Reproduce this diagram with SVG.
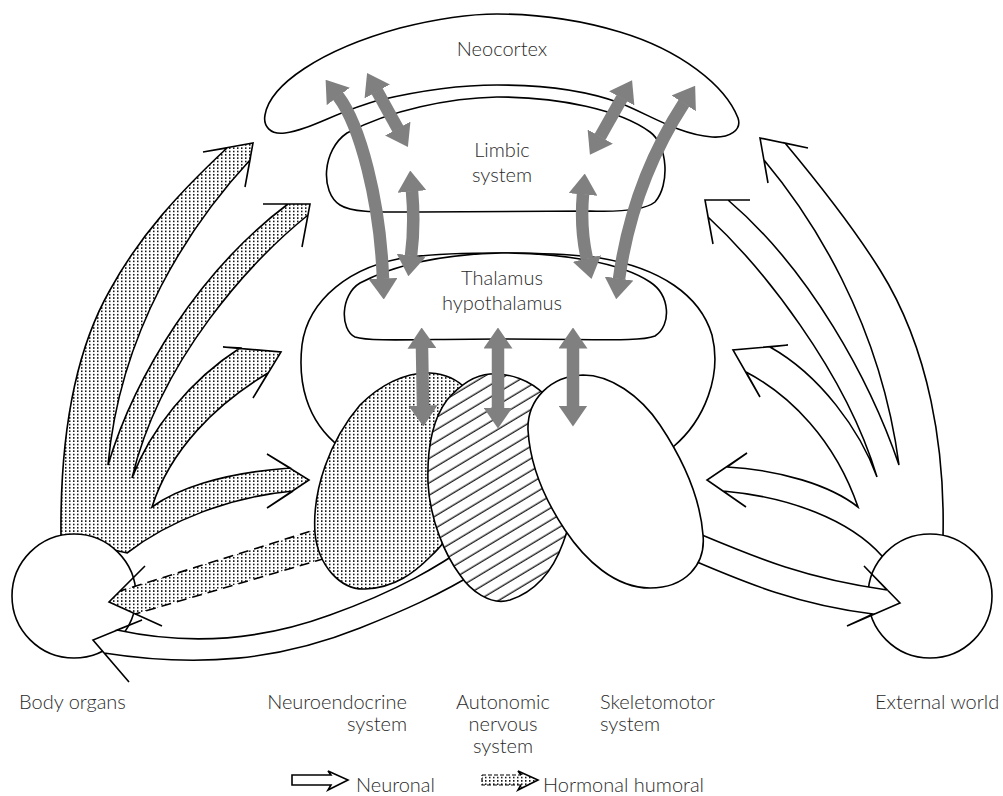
<svg xmlns="http://www.w3.org/2000/svg" width="1003" height="796" viewBox="0 0 1003 796">
<style>
.o{stroke:#000;stroke-width:1.6;fill:#fff}
.dt{stroke:#000;stroke-width:1.6;fill:url(#dots)}
.ht{stroke:#000;stroke-width:1.6;fill:url(#hatch)}
.t{font-family:Lato,"Open Sans","Liberation Sans",sans-serif;font-size:20px;font-weight:300;fill:#2a2a2a}
.m{text-anchor:middle}
.e{text-anchor:end}
.g{stroke:#808080;stroke-width:12.5;fill:none;marker-start:url(#gh);marker-end:url(#gh)}
.dash{fill:none;stroke:#000;stroke-width:1.6;stroke-dasharray:10 6}
.ln{fill:none;stroke:#000;stroke-width:1.6}
</style>
<defs>
<pattern id="dots" width="4" height="3.33" patternUnits="userSpaceOnUse">
<rect width="4" height="3.33" fill="#fff"/>
<rect x="1" y="0.9" width="1.5" height="1.5" fill="#000"/>
</pattern>
<pattern id="hatch" width="10" height="10.5" patternUnits="userSpaceOnUse" patternTransform="rotate(-31)">
<rect width="10" height="10.5" fill="#fff"/>
<line x1="0" y1="5" x2="10" y2="5" stroke="#000" stroke-width="1.2"/>
</pattern>
<marker id="gh" viewBox="0 0 21 29" refX="0.5" refY="14.5" markerWidth="21" markerHeight="29" markerUnits="userSpaceOnUse" orient="auto-start-reverse">
<path d="M0,0 L21,14.5 L0,29 Z" fill="#808080"/>
</marker>
</defs>

<g id="connectors-under">
<path id="hormonal-fan" class="dt" d="M61,538 C60,450 70,360 110,290 C140,235 180,192 227,148 L203,152 L253,143 L245,187 L250,160 C190,225 120,330 108,465 C135,375 200,270 288,204 L263,204 L310,204 L302,247 L308,215 C250,262 160,360 132,478 C150,430 190,380 240,348 L223,347 L281,352 L253,398 L268,373 C215,405 170,450 152,507 C175,490 220,473 290,468 L267,454 L309,480 L267,508 L293,491 C230,497 170,520 127,553 L61,538 Z"/>
<path id="neuronal-fan" class="o" d="M943,537 C945,450 930,350 880,270 C855,230 820,185 785,143 L808,148 L760,138 L768,183 L764,160 C810,215 880,320 899,465 C870,380 810,270 728,200 L750,200 L705,200 L713,244 L708,217 C760,265 845,370 877,477 C860,430 820,375 770,347 L788,345 L733,350 L760,397 L746,372 C790,395 835,440 858,507 C830,485 780,470 727,467 L747,453 L707,480 L746,507 L723,491 C790,497 850,520 882,556 L943,537 Z"/>
</g>

<g id="body-organs">
<circle class="o" cx="74" cy="596" r="62"/>
<text class="t" x="19" y="709">Body organs</text>
</g>
<g id="external-world">
<circle class="o" cx="930" cy="596" r="62"/>
<text class="t" x="875" y="709">External world</text>
</g>

<g id="connectors-lower">
<path id="ans-to-body" class="o" d="M472,543 C440,565 400,590 330,615 C270,637 200,648 117,630 L142,620 L93,640 L129,682 L104,653 C200,668 280,660 360,628 C400,612 440,595 480,570 Z"/>
<g id="endo-to-body">
<path d="M340,522 L120,591 L145,566 L109,602 L162,626 L135,614 L340,554 Z" fill="url(#dots)"/>
<path class="dash" d="M340,522 L120,591 M340,554 L135,614"/>
<path class="ln" d="M145,566 L109,602 L162,626"/>
</g>
<path id="skel-to-world" class="o" d="M685,528 C750,555 800,578 887,590 L864,566 L900,603 L847,626 L873,614 C800,605 750,585 683,556 Z"/>
</g>

<g id="neocortex">
<path class="o" d="M265,115 C270,85 320,50 400,28 C440,18 470,14 497,14 C540,14 580,20 620,32 C680,50 725,85 738,118 C742,130 730,138 712,137 C680,135 650,115 620,103 C585,90 540,85 497,85 C450,85 410,93 380,100 C340,110 310,130 285,133 C270,135 263,126 265,115 Z"/>
<text class="t m" x="502" y="56">Neocortex</text>
</g>
<g id="limbic">
<path class="o" d="M347,133 C390,110 450,98 497,97 C560,97 620,110 650,132 C668,145 670,185 655,202 C645,210 620,212 590,211 L420,212 C380,212 352,213 340,205 C320,192 322,150 347,133 Z"/>
<text class="t m" x="502" y="157">Limbic</text>
<text class="t m" x="502" y="182">system</text>
</g>
<g id="thalamus">
<path class="o" d="M340,447 C305,420 298,380 302,345 C308,300 350,265 410,257 C450,252 550,251 600,258 C660,268 700,295 712,335 C722,375 705,420 673,447 L600,500 L400,500 Z"/>
<path class="o" d="M360,283 C400,262 450,254 502,253 C560,253 620,262 650,282 C670,295 672,325 655,336 C640,342 600,339 500,339 C420,339 370,342 355,337 C340,330 340,295 360,283 Z"/>
<text class="t m" x="502" y="285">Thalamus</text>
<text class="t m" x="502" y="310">hypothalamus</text>
</g>
<g id="neuroendocrine">
<path class="dt" d="M430,373 C460,375 480,395 480,430 C480,480 460,530 430,557 C415,572 395,588 365,589 C340,590 318,565 315,533 C312,490 330,440 360,405 C380,385 405,372 430,373 Z"/>
<text class="t e" x="407" y="709">Neuroendocrine</text>
<text class="t e" x="407" y="731">system</text>
</g>
<g id="autonomic">
<path class="ht" d="M490,374 C510,373 530,380 545,395 C575,430 580,500 563,543 C555,565 540,590 510,600 C490,606 470,590 460,575 C445,555 430,520 428,483 C427,450 432,420 447,400 C460,385 475,375 490,374 Z"/>
<text class="t m" x="503" y="709">Autonomic</text>
<text class="t m" x="503" y="731">nervous</text>
<text class="t m" x="503" y="753">system</text>
</g>
<g id="skeletomotor">
<path class="o" d="M583,375 C610,375 640,395 660,425 C680,455 700,495 703,535 C706,565 685,588 650,588 C615,588 585,560 565,530 C545,500 530,465 528,430 C527,400 550,376 583,375 Z"/>
<text class="t" x="600" y="709">Skeletomotor</text>
<text class="t" x="600" y="731">system</text>
</g>

<g id="connectors-gray">
<path class="g" d="M338,96 C360,125 380,200 383,279"/>
<path class="g" d="M377,91 L398,129"/>
<path class="g" d="M412,191 Q415,225 411,256"/>
<path class="g" d="M583,194 Q580,228 587,259"/>
<path class="g" d="M622,98 L600,137"/>
<path class="g" d="M684,103 C660,140 630,200 619,279"/>
<path class="g" d="M422,348 L423,406"/>
<path class="g" d="M498,348 L498,408"/>
<path class="g" d="M573,348 L573,406"/>
</g>

<g id="legend">
<path class="o" d="M292,775 H331 L328,771 L348,780 L328,790 L331,785 H292 Z"/>
<text class="t" x="356" y="792">Neuronal</text>
<path d="M482,775 H521 L518,771 L538,780 L518,790 L521,785 H482 Z" fill="url(#dots)"/>
<path d="M482,775 H521 M521,785 H482 V775" fill="none" stroke="#000" stroke-width="1.2" stroke-dasharray="4 2"/>
<path class="ln" d="M521,775 L518,771 L538,780 L518,790 L521,785" stroke-width="1.2"/>
<text class="t" x="543" y="792">Hormonal humoral</text>
</g>
</svg>
